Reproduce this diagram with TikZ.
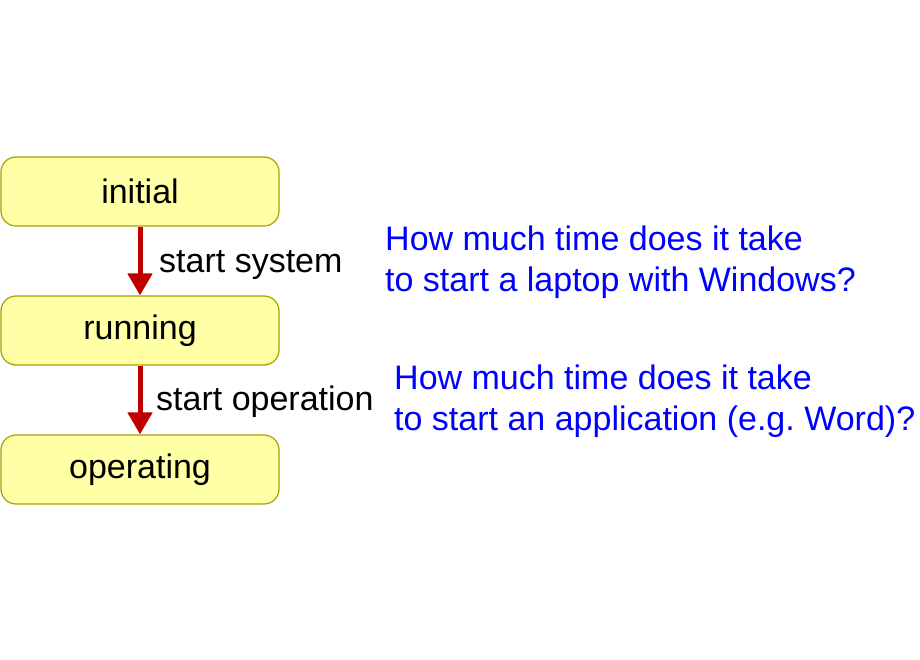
\documentclass[tikz,border=0pt]{standalone}
\usepackage{fontspec}
\setmainfont{Liberation Sans}
\usetikzlibrary{arrows.meta}
\frenchspacing
\definecolor{boxfill}{HTML}{FFFFA6}
\definecolor{boxline}{HTML}{A6A000}
\definecolor{arrowred}{HTML}{C00000}
\definecolor{qblue}{HTML}{0000FF}
\tikzset{
  state/.style={draw=boxline, line width=1.2pt, fill=boxfill, rounded corners=15pt,
    minimum width=278pt, minimum height=69pt, inner sep=0pt,
    font=\fontsize{34}{40}\selectfont},
  trans/.style={draw=arrowred, line width=5pt, -{Triangle[width=24pt,length=22pt]}},
  lbl/.style={anchor=base west, inner sep=0pt, font=\fontsize{34}{40}\selectfont},
  question/.style={anchor=base west, inner sep=0pt, align=left, text=qblue,
    font=\fontsize{34}{41}\selectfont}
}
\begin{document}
\begin{tikzpicture}[x=1pt,y=1pt]
\useasboundingbox (0,0) rectangle (920,-660);
\node[state] (initial) at (140,-191.5) {initial};
\node[state] (running) at (140,-330.5) {running};
\node[state] (operating) at (140,-469.5) {operating};
\draw[trans] (initial.south) -- (running.north);
\draw[trans] (running.south) -- (operating.north);
\node[lbl] (l1) at (159,-272) {start system};
\node[lbl] (l2) at (156,-410) {start operation};
\node[question] (q1) at (385,-291) {How much time does it take\\to start a laptop with Windows?};
\node[question] (q2) at (394,-430) {How much time does it take\\to start an application (e.g. Word)?};
\end{tikzpicture}
\end{document}
